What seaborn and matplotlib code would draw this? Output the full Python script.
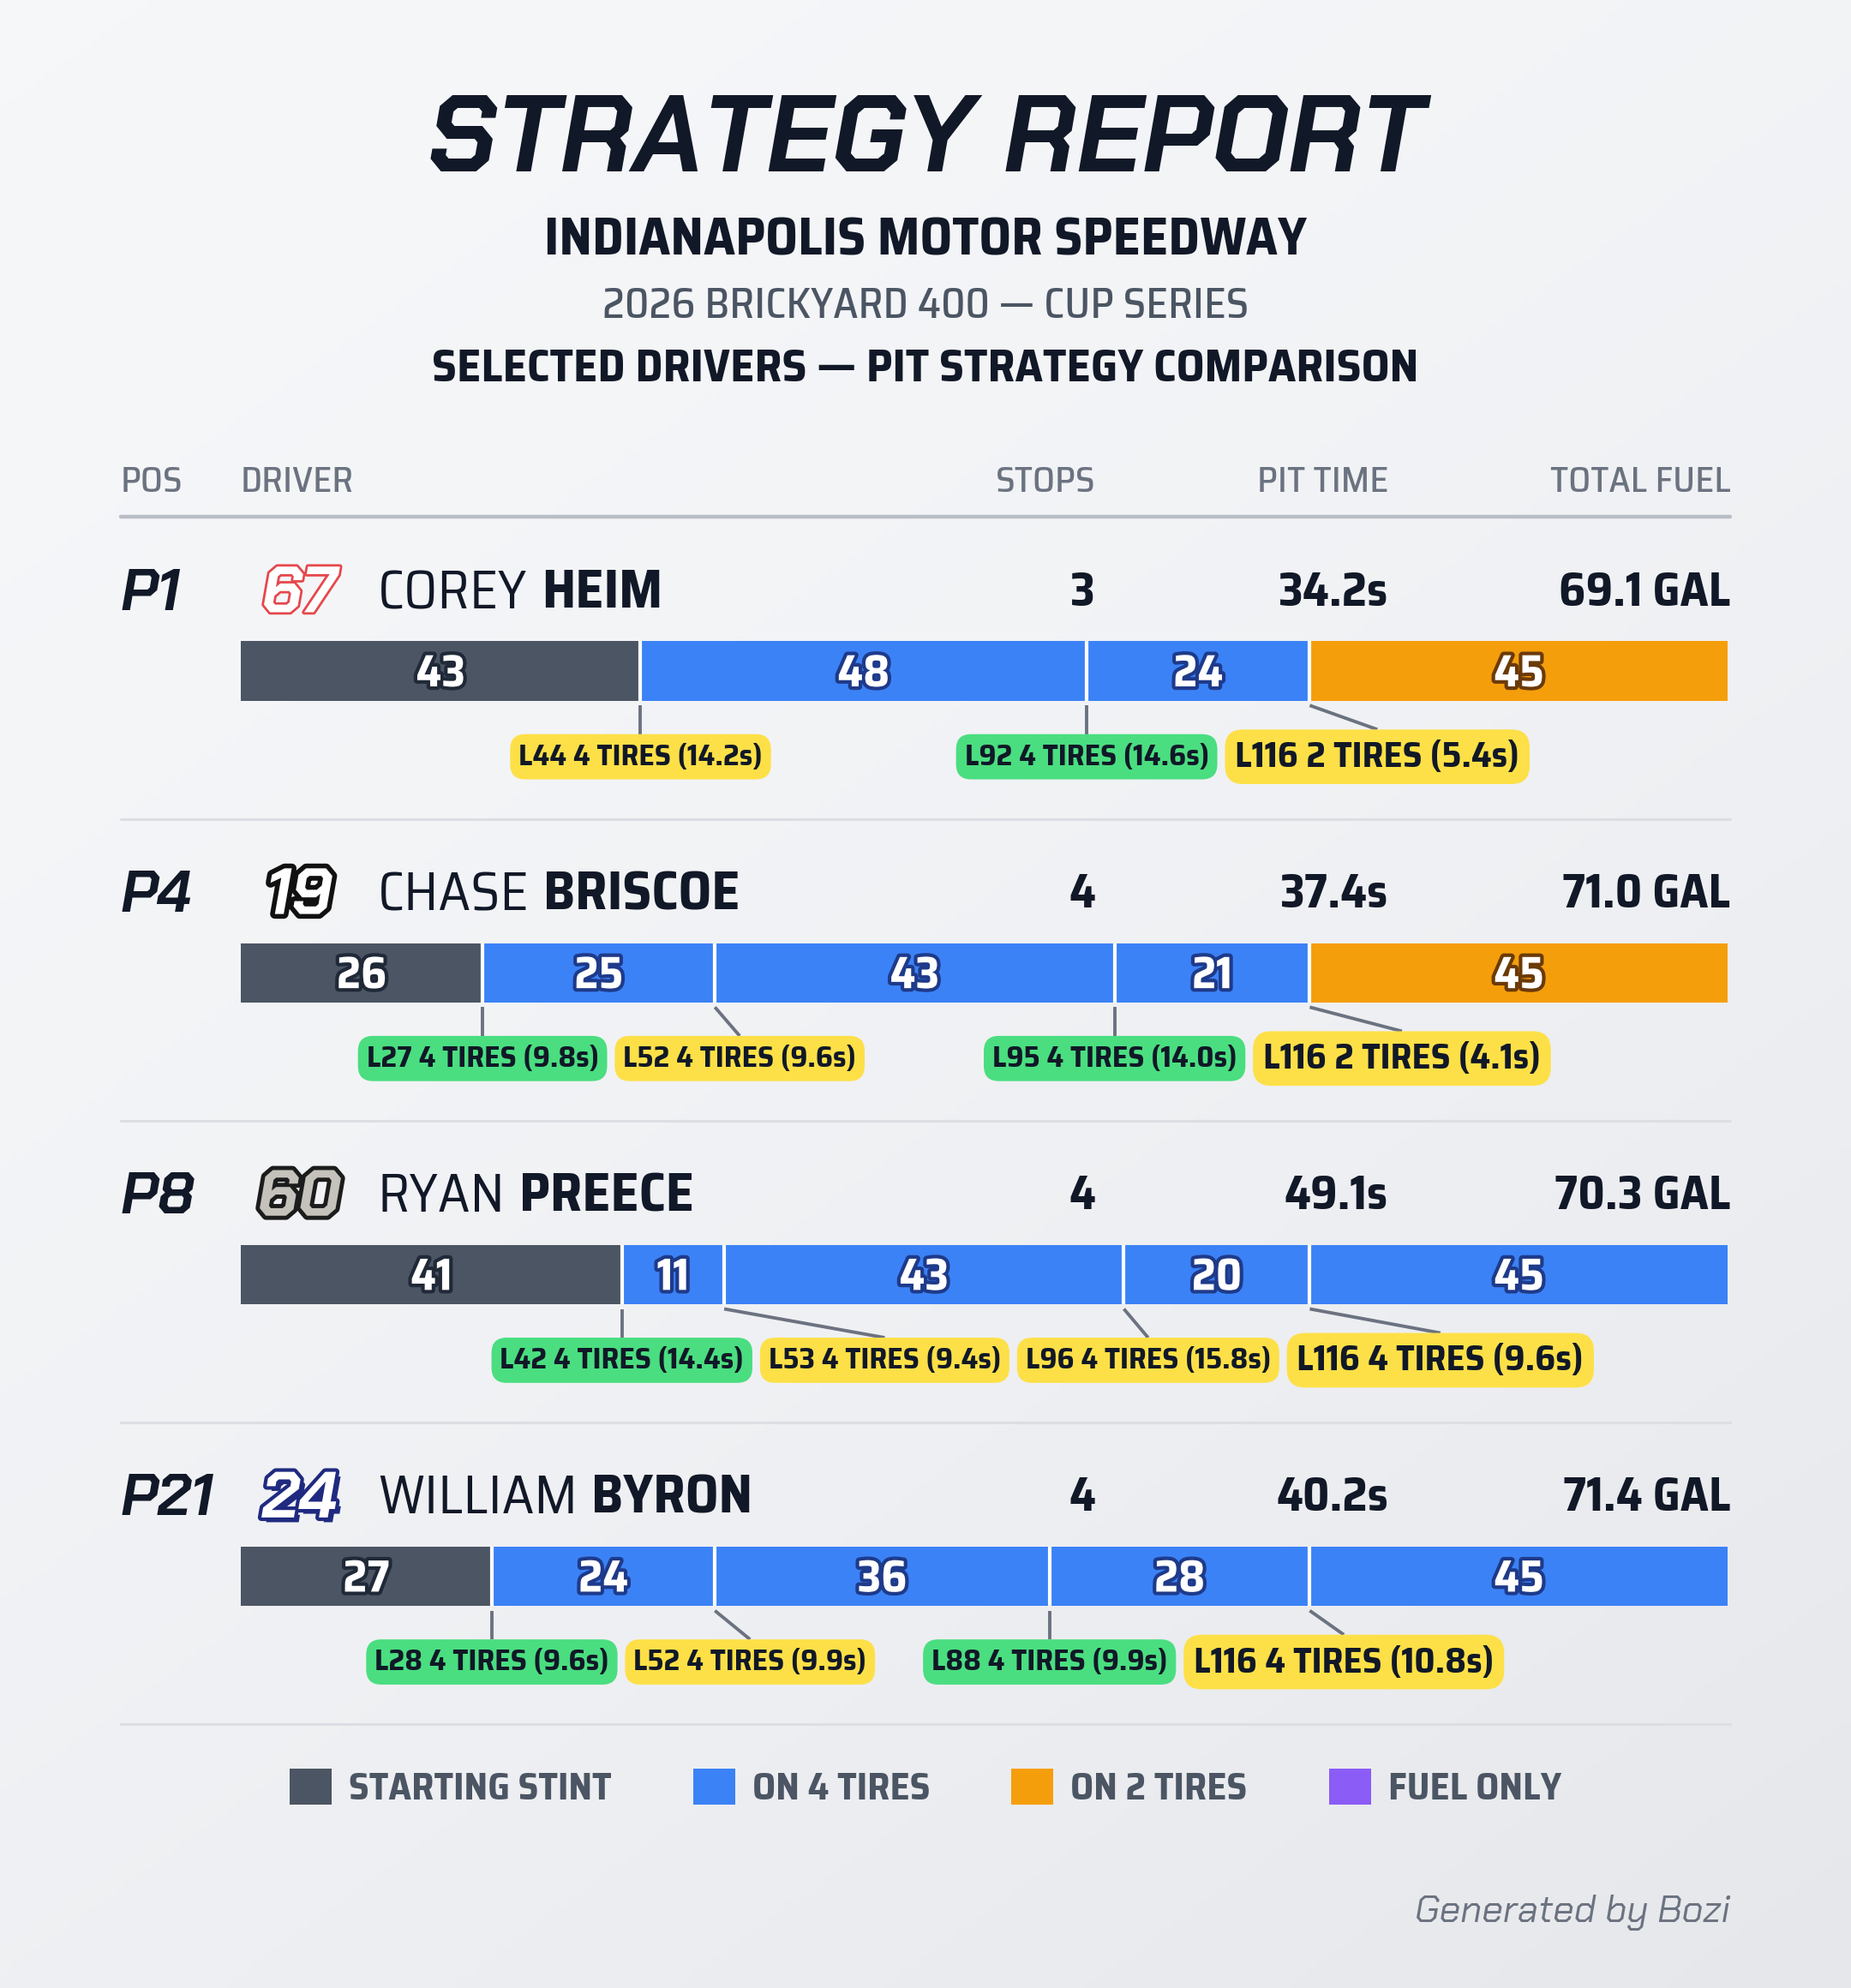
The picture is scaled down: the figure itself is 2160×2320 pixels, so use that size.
import numpy as np
import pandas as pd
import matplotlib
matplotlib.use("Agg")
import matplotlib.pyplot as plt
import matplotlib.patheffects as pe
from matplotlib import font_manager as fm
from matplotlib.patches import Patch
from matplotlib.colors import LinearSegmentedColormap
from matplotlib.transforms import blended_transform_factory
import seaborn as sns

# ---- data ----
positions = ["P1", "P4", "P8", "P21"]
car_numbers = ["67", "19", "60", "24"]
first_names = ["COREY", "CHASE", "RYAN", "WILLIAM"]
last_names = ["HEIM", "BRISCOE", "PREECE", "BYRON"]
stop_counts = [3, 4, 4, 4]
pit_times = [34.2, 37.4, 49.1, 40.2]
total_fuel = [69.1, 71.0, 70.3, 71.4]

stint_laps = [[43, 48, 24, 45],
              [26, 25, 43, 21, 45],
              [41, 11, 43, 20, 45],
              [27, 24, 36, 28, 45]]
stint_kinds = [["STARTING STINT", "ON 4 TIRES", "ON 4 TIRES", "ON 2 TIRES"],
               ["STARTING STINT", "ON 4 TIRES", "ON 4 TIRES", "ON 4 TIRES", "ON 2 TIRES"],
               ["STARTING STINT", "ON 4 TIRES", "ON 4 TIRES", "ON 4 TIRES", "ON 4 TIRES"],
               ["STARTING STINT", "ON 4 TIRES", "ON 4 TIRES", "ON 4 TIRES", "ON 4 TIRES"]]

pit_laps = [[44, 92, 116], [27, 52, 95, 116], [42, 53, 96, 116], [28, 52, 88, 116]]
pit_tires = [[4, 4, 2], [4, 4, 4, 2], [4, 4, 4, 4], [4, 4, 4, 4]]
pit_secs = [[14.2, 14.6, 5.4], [9.8, 9.6, 14.0, 4.1], [14.4, 9.4, 15.8, 9.6], [9.6, 9.9, 9.9, 10.8]]
pit_tags = [["y", "g", "y"], ["g", "y", "g", "y"], ["g", "y", "y", "y"], ["g", "y", "g", "y"]]

legend_labels = ["STARTING STINT", "ON 4 TIRES", "ON 2 TIRES", "FUEL ONLY"]

# ---- styling ----
kind_colors = {"STARTING STINT": "#4b5563", "ON 4 TIRES": "#3b82f6",
               "ON 2 TIRES": "#f59e0b", "FUEL ONLY": "#8b5cf6"}
kind_outline = {"STARTING STINT": "#1f2937", "ON 4 TIRES": "#1e3a8a",
                "ON 2 TIRES": "#6b3a08", "FUEL ONLY": "#4c1d95"}
tag_colors = {"g": "#4ade80", "y": "#fde047"}
car_styles = {"67": ("white", "#e5484d", 2.0),
              "19": ("white", "#111111", 4.0),
              "60": ("#c4c2ba", "#1c1c1c", 3.5),
              "24": ("white", "#1f2a80", 3.0)}
INK = "#111827"
GREY = "#6b7280"
DISPLAY = "Chakra Petch"

# semi condensed Saira if a static bold cut is there, else the condensed one set a bit larger
static = {(f.name, f.weight) for f in fm.fontManager.ttflist}
BODY, WF = "Saira Condensed", 1.1
for fam in ["Saira SemiCondensed", "Saira Semi Condensed"]:
    if (fam, 700) in static:
        BODY, WF = fam, 1.0
        break

sns.set_theme(style="white")
plt.rcParams["font.family"] = [BODY, "DejaVu Sans"]

W, H = 1460, 1568          # layout units of the report
PT = 0.761 * WF            # cap height (layout px) -> font size (pt)

fig = plt.figure(figsize=(10.8, 11.6), dpi=200)

# background with a soft diagonal gradient
bg = fig.add_axes([0, 0, 1, 1])
gx, gy = np.meshgrid(np.linspace(0, 1, 300), np.linspace(0, 1, 300))
grad = (0.4 * gx + 0.6 * gy) ** 1.6
cmap = LinearSegmentedColormap.from_list("bg", ["#f6f7f9", "#e6e7eb"])
bg.imshow(grad, extent=(0, W, H, 0), cmap=cmap, aspect="auto", zorder=0)
bg.set_xlim(0, W)
bg.set_ylim(H, 0)
bg.axis("off")

# headings
bg.text(W / 2, 105 + 30, "STRATEGY REPORT", ha="center", va="baseline", family=DISPLAY,
        weight="bold", style="italic", fontsize=45.5, color=INK)
bg.text(W / 2, 187 + 14, "INDIANAPOLIS MOTOR SPEEDWAY", ha="center", va="baseline",
        weight="bold", fontsize=29.2 * PT, color=INK)
bg.text(W / 2, 240 + 11, "2026 BRICKYARD 400 \u2014 CUP SERIES", ha="center", va="baseline",
        weight="medium", fontsize=23.3 * PT, color="#4b5563")
bg.text(W / 2, 289 + 12, "SELECTED DRIVERS \u2014 PIT STRATEGY COMPARISON", ha="center",
        va="baseline", weight="bold", fontsize=25.6 * PT, color=INK)

# column headers
for x, lab, ha in [(95, "POS", "left"), (190, "DRIVER", "left"), (864, "STOPS", "right"),
                   (1095, "PIT TIME", "right"), (1365, "TOTAL FUEL", "right")]:
    bg.text(x, 378 + 10, lab, ha=ha, va="baseline", weight="medium", fontsize=20 * PT, color=GREY)

# ---- strategy bars ----
ROW = 238.0   # layout px per driver row
ax = fig.add_axes([190 / W, 1 - 1360 / H, 1173 / W, 952 / H])
ax.patch.set_alpha(0)

rows = []
for drv, laps, kinds in zip(last_names, stint_laps, stint_kinds):
    ends = np.cumsum(laps)
    for k, (lap, kind) in enumerate(zip(laps, kinds)):
        rows.append({"driver": drv, "stint": k, "laps": lap, "end": ends[k],
                     "start": ends[k] - lap, "kind": kind})
seg = pd.DataFrame(rows)

# stacked by layering cumulative ends, last stint first
for k in sorted(seg["stint"].unique(), reverse=True):
    layer = seg[seg["stint"] == k]
    sns.barplot(data=layer, x="end", y="driver", hue="kind", order=last_names,
                hue_order=legend_labels, palette=kind_colors, dodge=False, width=47 / ROW,
                orient="h", errorbar=None, legend=False, saturation=1, linewidth=0, ax=ax)

ax.set_xlim(0, seg["end"].max())
ax.set_ylim(3.49, -0.51)
ax.axis("off")


def ry(i, px):
    return i + px / ROW


blend = blended_transform_factory(bg.transData, ax.transData)

for i, drv in enumerate(last_names):
    d = seg[seg["driver"] == drv]
    # white splits between stints
    ax.vlines(d["start"].iloc[1:], ry(i, -23.5), ry(i, 23.5), colors="white", lw=1.5, zorder=4)
    for _, r in d.iterrows():
        ax.text(r["start"] + r["laps"] / 2, ry(i, 12), str(r["laps"]), ha="center", va="baseline",
                color="white", weight="bold", fontsize=25 * PT, zorder=5,
                path_effects=[pe.withStroke(linewidth=3, foreground=kind_outline[r["kind"]])])

    # row header line of text
    ax.text(95, ry(i, -64.5 + 16), positions[i], transform=blend, ha="left", va="baseline",
            family=DISPLAY, weight="bold", style="italic", fontsize=32 * 0.761, color=INK)
    fill, edge, lw = car_styles[car_numbers[i]]
    effects = [pe.withStroke(linewidth=lw, foreground=edge)]
    if car_numbers[i] == "24":
        effects = [pe.SimplePatchShadow(offset=(2, -2), shadow_rgbFace=edge, alpha=1)] + effects
    ax.text(236, ry(i, -64.5 + 18), car_numbers[i], transform=blend, ha="center", va="baseline",
            family=DISPLAY, weight="bold", style="italic", fontsize=36 * 0.761, color=fill,
            path_effects=effects)
    fn = ax.text(298, ry(i, -64.5 + 15), first_names[i], transform=blend, ha="left",
                 va="baseline", fontsize=30 * PT, color=INK)
    ax.annotate(last_names[i], xy=(1, 0), xycoords=fn, xytext=(6, 0), textcoords="offset points",
                ha="left", va="bottom", weight="bold", fontsize=30 * PT, color=INK)
    ax.text(864, ry(i, -64.5 + 13), str(stop_counts[i]), transform=blend, ha="right",
            va="baseline", weight="bold", fontsize=26 * PT, color=INK)
    ax.text(1095, ry(i, -64.5 + 13), f"{pit_times[i]:.1f}s", transform=blend, ha="right",
            va="baseline", weight="bold", fontsize=26 * PT, color=INK)
    ax.text(1365, ry(i, -64.5 + 13), f"{total_fuel[i]:.1f} GAL", transform=blend, ha="right",
            va="baseline", weight="bold", fontsize=26 * PT, color=INK)

    # separator under the row
    ax.plot([95, 1365], [ry(i, 116.5)] * 2, transform=blend, color="#dcdee3", lw=1.1,
            clip_on=False, zorder=1)

# header rule
ax.plot([95, 1365], [ry(0, -121.5)] * 2, transform=blend, color="#b9bdc5", lw=1.6,
        clip_on=False, zorder=1)

# ---- pit stop tags, pushed right so they never overlap ----
renderer = fig.canvas.get_renderer()
px_gap = 6 * 2160 / W
for i, drv in enumerate(last_names):
    bounds = seg[seg["driver"] == drv]["start"].iloc[1:].to_numpy()
    prev_right = -np.inf
    n = len(pit_laps[i])
    for j in range(n):
        big = j == n - 1
        fs = (20 if big else 16.7) * PT
        pad = 0.28
        t = ax.text(bounds[j], ry(i, 67.5), f"L{pit_laps[i][j]} {pit_tires[i][j]} TIRES ({pit_secs[i][j]:.1f}s)",
                    ha="center", va="center", weight="bold", fontsize=fs, color=INK, zorder=6,
                    bbox=dict(boxstyle=f"round,pad={pad},rounding_size=0.5",
                              fc=tag_colors[pit_tags[i][j]], ec="none"))
        ext = t.get_window_extent(renderer)
        pad_px = pad * fs * fig.dpi / 72
        w = ext.width + 2 * pad_px
        bx, by = ax.transData.transform((bounds[j], ry(i, 67.5)))
        left = max(bx - w / 2, prev_right + px_gap)
        cx = left + w / 2
        prev_right = left + w
        top_px = by + ext.height / 2 + pad_px
        new_x, top_y = ax.transData.inverted().transform((cx, top_px))
        t.set_x(new_x)
        ax.plot([bounds[j], new_x], [ry(i, 27), top_y], color=GREY, lw=1.4,
                solid_capstyle="butt", clip_on=False, zorder=3)

# ---- legend ----
handles = [Patch(facecolor=kind_colors[k], edgecolor="none", label=k) for k in legend_labels]
fig.legend(handles=handles, loc="center", bbox_to_anchor=(0.5, 1 - 1410 / H), ncol=4,
           frameon=False, prop={"family": BODY, "weight": "bold", "size": 21 * PT},
           labelcolor="#4b5563", handlelength=1.1 / WF, handleheight=1.1 / WF,
           handletextpad=0.45, columnspacing=2.15)

bg.text(1365, 1505 + 11, "Generated by Bozi", ha="right", va="baseline", family=DISPLAY,
        style="italic", fontsize=22 * 0.72, color=GREY)

fig.savefig("out.png", dpi=200)
